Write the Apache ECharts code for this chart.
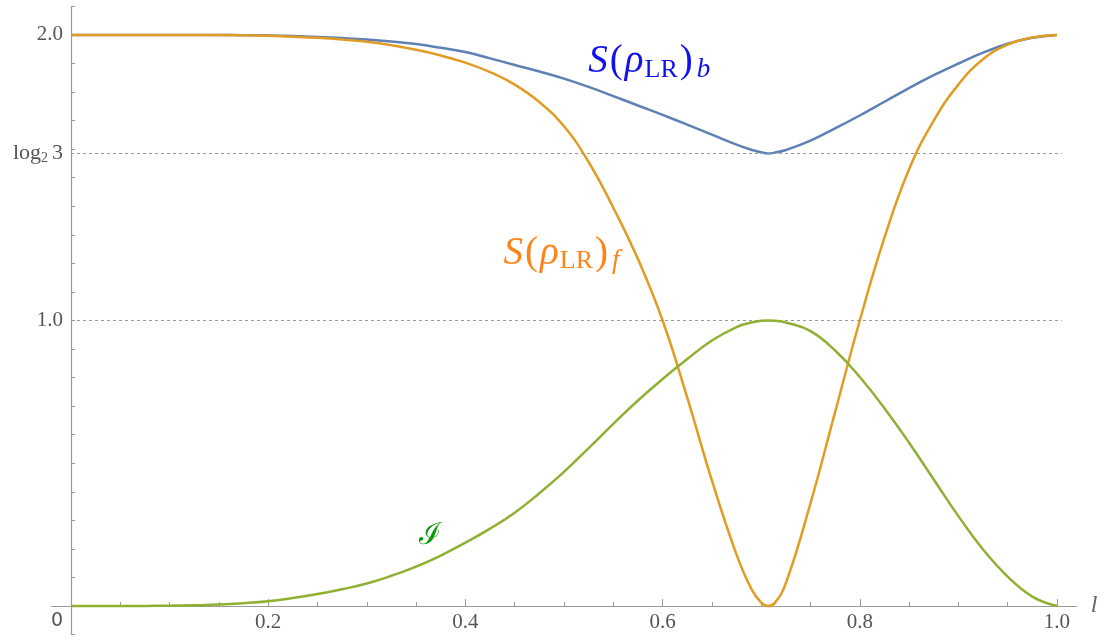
<!DOCTYPE html>
<html>
<head>
<meta charset="utf-8">
<script src="https://cdn.jsdelivr.net/npm/echarts@6/dist/echarts.min.js"></script>
<style>html,body{margin:0;padding:0;background:#fff}#chart{width:1104px;height:642px}</style>
</head>
<body>
<div id="chart"></div>
<script>
// ---- data ----
const lValues = [0, 0.025, 0.05, 0.075, 0.1, 0.125, 0.15, 0.175, 0.2, 0.225, 0.25, 0.275, 0.3, 0.325, 0.35, 0.375, 0.4, 0.425, 0.45, 0.475, 0.5, 0.525, 0.55, 0.575, 0.6, 0.625, 0.65, 0.675, 0.69, 0.7, 0.707, 0.714, 0.725, 0.75, 0.775, 0.8, 0.825, 0.85, 0.875, 0.9, 0.925, 0.95, 0.975, 1.0];
const sBValues = [2, 2, 2, 2, 2, 2, 2, 1.999, 1.998, 1.996, 1.993, 1.989, 1.984, 1.977, 1.968, 1.955, 1.94, 1.918, 1.895, 1.872, 1.847, 1.818, 1.786, 1.753, 1.72, 1.686, 1.651, 1.616, 1.598, 1.589, 1.585, 1.588, 1.597, 1.63, 1.673, 1.718, 1.766, 1.814, 1.859, 1.9, 1.938, 1.969, 1.99, 2];
const sFValues = [2, 2, 2, 2, 2, 2, 2, 1.999, 1.997, 1.994, 1.99, 1.984, 1.976, 1.964, 1.948, 1.928, 1.903, 1.87, 1.826, 1.765, 1.68, 1.555, 1.395, 1.215, 1.0, 0.73, 0.44, 0.18, 0.06, 0.012, 0, 0.012, 0.08, 0.36, 0.68, 1.0, 1.29, 1.53, 1.70, 1.826, 1.915, 1.966, 1.991, 2];
const iValues = [0, 0, 0, 0.0004, 0.001, 0.0025, 0.005, 0.01, 0.017, 0.028, 0.042, 0.059, 0.079, 0.106, 0.138, 0.177, 0.222, 0.271, 0.327, 0.395, 0.47, 0.553, 0.638, 0.72, 0.795, 0.865, 0.93, 0.977, 0.993, 0.999, 1.0, 0.999, 0.993, 0.963, 0.895, 0.802, 0.693, 0.572, 0.443, 0.315, 0.198, 0.103, 0.033, 0];
const xLabelValues = [0, 0.2, 0.4, 0.6, 0.8, 1.0];
const xMajorTicks = [0.2, 0.4, 0.6, 0.8, 1.0];
const xMinorTicks = [0.05, 0.1, 0.15, 0.25, 0.3, 0.35, 0.45, 0.5, 0.55, 0.65, 0.7, 0.75, 0.85, 0.9, 0.95];
const yLabelValues = [1.0, 1.585, 2.0];
const yLabelTexts = ['1.0', '{a|log}{s|2}{b|3}', '2.0'];
const refLineValues = [1.0, 1.585];
const seriesNames = ['S(ρLR)b', 'S(ρLR)f', 'I'];

const zip = (ys) => lValues.map((l, i) => [l, ys[i]]);

const serif = "'Liberation Serif', 'DejaVu Serif', serif";
const chart = echarts.init(document.getElementById('chart'), null, {renderer: 'canvas'});

const labelRich = (color) => ({
  m: {fontFamily: serif, fontSize: 39, fontStyle: 'italic', color: color, lineHeight: 42, verticalAlign: 'middle', padding: [0, 1, 0, 1]},
  p: {fontFamily: serif, fontSize: 39, color: color, lineHeight: 42, verticalAlign: 'middle', padding: [0, 1, 0, 1]},
  r: {fontFamily: serif, fontSize: 26, color: color, lineHeight: 24, verticalAlign: 'bottom', padding: [0, 1, 0, 0]},
  i: {fontFamily: serif, fontSize: 27, fontStyle: 'italic', color: color, lineHeight: 24, verticalAlign: 'bottom', padding: [0, 0, 0, 3]}
});

const option = {
  animation: false,
  backgroundColor: '#ffffff',
  grid: {left: 51.3, right: 27.3, top: 6.4, bottom: 7.4, containLabel: false, outerBoundsMode: 'none'},
  xAxis: [{
    type: 'value', min: -0.02, max: 1.02, position: 'bottom',
    name: 'l', nameLocation: 'end', nameGap: 14,
    nameTextStyle: {fontFamily: serif, fontStyle: 'italic', fontSize: 24, color: '#666', verticalAlign: 'middle'},
    axisLine: {onZero: true, lineStyle: {color: '#9a9a9a', width: 1.2}},
    axisTick: {inside: true, length: 4, customValues: xMinorTicks, lineStyle: {color: '#9a9a9a', width: 1}},
    axisLabel: {
      customValues: xLabelValues, margin: -23, color: '#555', fontFamily: serif, fontSize: 21,
      formatter: (v) => v === 0 ? '{o|0}' : v.toFixed(1),
      rich: {o: {fontFamily: "'DejaVu Sans', sans-serif", fontSize: 19, color: '#555', padding: [0, 28, 0, 0]}}
    },
    splitLine: {show: false}
  }, {
    type: 'value', min: -0.02, max: 1.02, position: 'bottom',
    axisLine: {show: false, onZero: true, onZeroAxisIndex: 0},
    axisTick: {inside: true, length: 7, customValues: xMajorTicks, lineStyle: {color: '#9a9a9a', width: 1}},
    axisLabel: {show: false},
    splitLine: {show: false}
  }],
  yAxis: {
    type: 'value', min: -0.1, max: 2.1, interval: 0.1,
    axisLine: {show: true, onZero: true, lineStyle: {color: '#9a9a9a', width: 1.2}},
    axisTick: {show: true, inside: true, length: 4, lineStyle: {color: '#9a9a9a', width: 1}},
    axisLabel: {
      customValues: yLabelValues, margin: -11.7, color: '#555', fontFamily: serif, fontSize: 21,
      formatter: (v) => {
        const k = yLabelValues.findIndex(x => Math.abs(x - v) < 1e-6);
        return k >= 0 ? yLabelTexts[k] : '';
      },
      rich: {
        a: {fontFamily: serif, fontSize: 22, color: '#555', lineHeight: 24, verticalAlign: 'middle'},
        s: {fontFamily: serif, fontSize: 14, color: '#555', lineHeight: 14, verticalAlign: 'bottom', padding: [0, 4, 0, 0]},
        b: {fontFamily: serif, fontSize: 22, color: '#555', lineHeight: 24, verticalAlign: 'middle'}
      }
    },
    splitLine: {show: false}
  },
  series: [{
    name: seriesNames[0], type: 'line', data: zip(sBValues), showSymbol: false, smooth: 0.45,
    lineStyle: {color: '#5E81B5', width: 2.5}, itemStyle: {color: '#5E81B5'}, z: 3,
    markLine: {
      silent: true, symbol: 'none', label: {show: false},
      lineStyle: {color: '#999', type: [3, 3], width: 1},
      data: refLineValues.map(v => [{coord: [0, v]}, {coord: [1.005, v]}])
    },
    markPoint: {
      silent: true, symbol: 'circle', symbolSize: 1, itemStyle: {color: 'rgba(0,0,0,0)'},
      label: {show: true, position: 'inside', formatter: '{m|S}{p|(}{m|ρ}{r|LR}{p|)}{i|b}', rich: labelRich('#1010f0')},
      data: [{coord: [0.586, 1.905]}]
    }
  }, {
    name: seriesNames[1], type: 'line', data: zip(sFValues), showSymbol: false, smooth: 0.45,
    lineStyle: {color: '#E19C24', width: 2.5}, itemStyle: {color: '#E19C24'}, z: 4,
    markPoint: {
      silent: true, symbol: 'circle', symbolSize: 1, itemStyle: {color: 'rgba(0,0,0,0)'},
      label: {show: true, position: 'inside', formatter: '{m|S}{p|(}{m|ρ}{r|LR}{p|)}{i|f}', rich: labelRich('#ff8418')},
      data: [{coord: [0.497, 1.235]}]
    }
  }, {
    name: seriesNames[2], type: 'line', data: zip(iValues), showSymbol: false, smooth: 0.45,
    lineStyle: {color: '#8FB032', width: 2.5}, itemStyle: {color: '#8FB032'}, z: 5,
    markPoint: {
      silent: true, symbol: 'circle', symbolSize: 1, itemStyle: {color: 'rgba(0,0,0,0)'},
      label: {show: true, position: 'inside', formatter: 'ℐ', fontFamily: "'DejaVu Serif', serif", fontSize: 30, color: '#0a9a0a'},
      data: [{coord: [0.364, 0.245]}]
    }
  }]
};
chart.setOption(option);
</script>
</body>
</html>
